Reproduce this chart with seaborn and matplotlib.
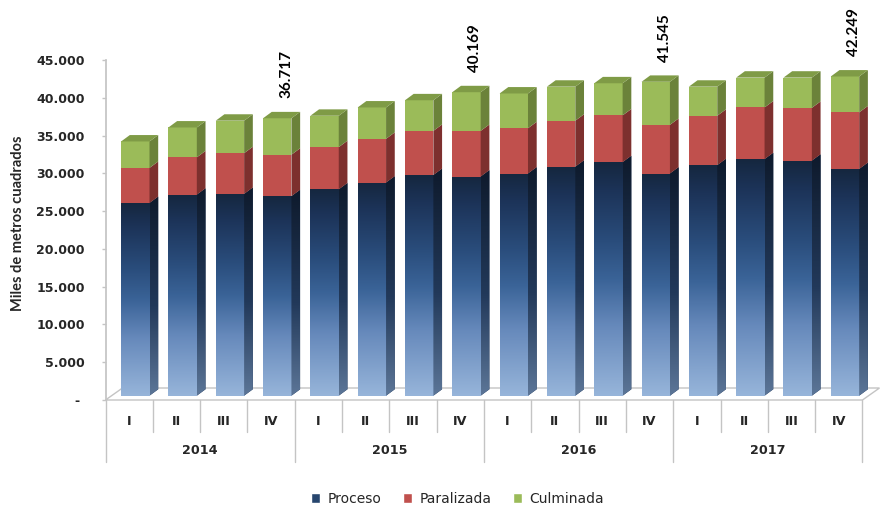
import numpy as np
import pandas as pd
import matplotlib
matplotlib.use("Agg")
import matplotlib.pyplot as plt
import seaborn as sns
from matplotlib.colors import LinearSegmentedColormap
from matplotlib.patches import Polygon, Patch

# datos (miles de m2)
anios = ["2014", "2015", "2016", "2017"]
trimestres = ["I", "II", "III", "IV"]
proceso = [25500, 26600, 26700, 26400, 27300, 28200, 29200, 29000,
           29400, 30300, 30900, 29400, 30500, 31300, 31100, 30000]
paralizada = [4650, 4950, 5400, 5500, 5600, 5800, 5850, 6050,
              6000, 6100, 6200, 6450, 6550, 6850, 7000, 7500]
culminada = [3500, 3950, 4300, 4817, 4150, 4150, 4050, 5119,
             4600, 4500, 4250, 5695, 3850, 3950, 4000, 4749]

periodos = [a + " " + t for a in anios for t in trimestres]
df = pd.DataFrame({"periodo": periodos, "Proceso": proceso,
                   "Paralizada": paralizada, "Culminada": culminada})

sns.set_theme(style="white")
plt.rcParams["font.family"] = ["DejaVu Sans"]

frente = {"Proceso": "#2f5a8e", "Paralizada": "#c0504d", "Culminada": "#9bbb59"}
lado = {"Paralizada": "#7d302e", "Culminada": "#6b823a"}
techo = "#7f9b46"
gris = "#c4c4c4"

W, H = 880, 508
fig = plt.figure(figsize=(W / 100, H / 100), dpi=100)
ax = fig.add_axes([105.5 / W, 108 / H, 774.5 / W, 340 / H])

desfase = -570          # el eje de valores esta un poco mas abajo que la cara frontal
xlim = (-0.63, 15.74)
ylim = (desfase, 45000 + desfase)
px_x = 774.5 / (xlim[1] - xlim[0])
px_y = 340 / (ylim[1] - ylim[0])
ddx, ddy = 8.7 / px_x, 6.4 / px_y   # profundidad de las barras

base = np.zeros(len(df))
capas = []
for serie in ["Proceso", "Paralizada", "Culminada"]:
    n0 = len(ax.patches)
    sns.barplot(data=df, x="periodo", y=serie, order=periodos, bottom=base,
                width=0.6, color=frente[serie], saturation=1, errorbar=None,
                linewidth=0, ax=ax)
    capas.append(list(ax.patches[n0:]))
    base = base + df[serie].to_numpy()

grad = np.linspace(0, 1, 256).reshape(-1, 1)
cm_frente = LinearSegmentedColormap.from_list("f", [
    (0, "#97b5da"), (0.3, "#6689bb"), (0.5, "#3a6397"),
    (0.66, "#2a4d7c"), (0.88, "#1c3358"), (1, "#15273f")])
cm_lado = LinearSegmentedColormap.from_list("l", [
    (0, "#5c7698"), (0.45, "#22395a"), (1, "#0e1a2c")])

for k, serie in enumerate(["Proceso", "Paralizada", "Culminada"]):
    for p in capas[k]:
        x0, y0, w, h = p.get_x(), p.get_y(), p.get_width(), p.get_height()
        cara = Polygon([(x0 + w, y0), (x0 + w + ddx, y0 + ddy),
                        (x0 + w + ddx, y0 + h + ddy), (x0 + w, y0 + h)],
                       closed=True, lw=0, zorder=2,
                       fc=lado.get(serie, "#1c3050"))
        ax.add_patch(cara)
        if serie == "Proceso":
            im = ax.imshow(grad, extent=[x0, x0 + w, y0, y0 + h], origin="lower",
                           aspect="auto", cmap=cm_frente, zorder=2)
            im.set_clip_path(p)
            im2 = ax.imshow(grad, extent=[x0 + w, x0 + w + ddx, y0, y0 + h + ddy],
                            origin="lower", aspect="auto", cmap=cm_lado, zorder=2)
            im2.set_clip_path(cara)
        if serie == "Culminada":
            ax.add_patch(Polygon([(x0, y0 + h), (x0 + ddx, y0 + h + ddy),
                                  (x0 + w + ddx, y0 + h + ddy), (x0 + w, y0 + h)],
                                 closed=True, lw=0, fc=techo, zorder=2))

# totales del cuarto trimestre
for i in range(3, len(periodos), 4):
    total = int(base[i])
    ax.text(i + 0.19, total + 2650, f"{total:,}".replace(",", "."), rotation=90,
            ha="center", va="bottom", fontsize=11, fontweight="bold",
            family="Lato", color="black")

# piso
fx0, fx1 = -0.5 - 0.13, 15.5 - 0.13
fdx, fdy = 17 / px_x, 12 / px_y
ax.add_patch(Polygon([(fx0, desfase), (fx1, desfase), (fx1 + fdx, desfase + fdy),
                      (fx0 + fdx, desfase + fdy)], closed=True, fc="white",
                     ec=gris, lw=1, zorder=0.5, clip_on=False))

ax.set_xlim(xlim)
ax.set_ylim(ylim)
ax.set_xlabel("")
ax.set_ylabel("")
ax.set_xticks([])
valores = np.arange(0, 45001, 5000)
ax.set_yticks(valores + desfase)
ax.set_yticklabels(["- " if v == 0 else f"{v:,}".replace(",", ".") for v in valores],
                   fontsize=9, fontweight="bold")
ax.tick_params(axis="y", left=True, length=3, width=1, color=gris, pad=12)
sns.despine(ax=ax, top=True, right=True, bottom=True)
ax.spines["left"].set_color(gris)

# tabla de categorias
tr = ax.get_xaxis_transform()
for k in range(len(periodos) + 1):
    xs = k - 0.5 - 0.13
    abajo = -0.181 if k % 4 == 0 else -0.093
    ax.plot([xs, xs], [0, abajo], color=gris, lw=1, transform=tr, clip_on=False)
for i, per in enumerate(periodos):
    ax.text(i - 0.13, -0.064, per.split(" ")[1], transform=tr, ha="center",
            va="center", fontsize=9.2, fontweight="bold")
for j, a in enumerate(anios):
    ax.text(4 * j + 1.5 - 0.13, -0.15, a, transform=tr, ha="center", va="center",
            fontsize=9.2, fontweight="bold")

fig.text(18 / W, 1 - 223.5 / H, "Miles de metros cuadrados", rotation=90,
         ha="center", va="center", fontsize=10.5, fontweight="bold", family="Lato")

manejadores = [Patch(fc="#27466e", label="Proceso"),
               Patch(fc=frente["Paralizada"], label="Paralizada"),
               Patch(fc=frente["Culminada"], label="Culminada")]
fig.legend(handles=manejadores, loc="center", bbox_to_anchor=(0.52, 0.018),
           ncol=3, frameon=False, fontsize=10, handlelength=0.65, handleheight=0.65,
           handletextpad=0.5, columnspacing=1.6)

fig.savefig("out.png", dpi=100)
